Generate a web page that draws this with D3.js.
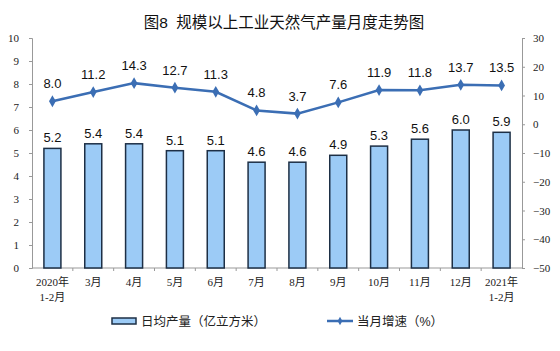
<!DOCTYPE html>
<html>
<head>
<meta charset="utf-8">
<script src="https://cdn.jsdelivr.net/npm/d3@7"></script>
<style>
  body { margin: 0; background: #fff; }
  svg { display: block; }
</style>
</head>
<body>
<div id="chart"></div>
<script>
const months = ['2020年\n1-2月', '3月', '4月', '5月', '6月', '7月', '8月', '9月', '10月', '11月', '12月', '2021年\n1-2月'];
const dailyOutput = [5.2, 5.4, 5.4, 5.1, 5.1, 4.6, 4.6, 4.9, 5.3, 5.6, 6.0, 5.9];
const growthRate = [8.0, 11.2, 14.3, 12.7, 11.3, 4.8, 3.7, 7.6, 11.9, 11.8, 13.7, 13.5];
const leftTicks = [0, 1, 2, 3, 4, 5, 6, 7, 8, 9, 10];
const rightTicks = [-50, -40, -30, -20, -10, 0, 10, 20, 30];

const width = 560, height = 351;
const margin = { left: 32, right: 38, top: 38, bottom: 83 };
const serif = '"Liberation Serif", "Noto Sans CJK SC", serif';
const sans = '"Liberation Sans", Arial, "Noto Sans CJK SC", sans-serif';

const svg = d3.select('#chart')
  .append('svg')
  .attr('width', width)
  .attr('height', height);

// scales
const x = d3.scaleBand()
  .domain(months)
  .range([margin.left, width - margin.right]);
const yLeft = d3.scaleLinear()
  .domain([0, 10])
  .range([height - margin.bottom, margin.top]);
const yRight = d3.scaleLinear()
  .domain([-50, 30])
  .range([height - margin.bottom, margin.top]);

// title
svg.append('text')
  .attr('x', 284)
  .attr('y', 28)
  .attr('text-anchor', 'middle')
  .attr('font-family', sans)
  .attr('font-size', 15.5)
  .attr('fill', '#111')
  .style('white-space', 'pre')
  .text('图8  规模以上工业天然气产量月度走势图');

// left axis
const axisL = svg.append('g')
  .attr('transform', `translate(${margin.left},0)`)
  .call(d3.axisLeft(yLeft).tickValues(leftTicks).tickSize(3).tickPadding(10));
axisL.select('.domain').attr('stroke', '#999');
axisL.selectAll('.tick line').attr('stroke', '#999');
axisL.selectAll('.tick text')
  .attr('font-family', serif)
  .attr('font-size', 11)
  .attr('fill', '#222');

// right axis
const axisR = svg.append('g')
  .attr('transform', `translate(${width - margin.right},0)`)
  .call(d3.axisRight(yRight).tickValues(rightTicks).tickSize(3).tickPadding(8));
axisR.select('.domain').attr('stroke', '#999');
axisR.selectAll('.tick line').attr('stroke', '#999');
axisR.selectAll('.tick text')
  .attr('font-family', serif)
  .attr('font-size', 11)
  .attr('fill', '#222');

// bottom axis line + ticks at band edges
const baseY = yLeft(0);
svg.append('line')
  .attr('x1', margin.left).attr('x2', width - margin.right)
  .attr('y1', baseY).attr('y2', baseY)
  .attr('stroke', '#999');
svg.append('g')
  .selectAll('line')
  .data(months.slice(1))
  .enter()
  .append('line')
  .attr('x1', (d) => x(d)).attr('x2', (d) => x(d))
  .attr('y1', baseY).attr('y2', baseY + 3)
  .attr('stroke', '#999');

// category labels
const catLabels = svg.append('g')
  .selectAll('text')
  .data(months)
  .enter()
  .append('text')
  .attr('x', (d) => x(d) + x.bandwidth() / 2)
  .attr('y', baseY + 18)
  .attr('text-anchor', 'middle')
  .attr('font-family', serif)
  .attr('font-size', 11)
  .attr('fill', '#222');
catLabels.each(function (d) {
  const lines = d.split('\n');
  d3.select(this).selectAll('tspan')
    .data(lines)
    .enter()
    .append('tspan')
    .attr('x', x(d) + x.bandwidth() / 2)
    .attr('dy', (l, i) => (i === 0 ? 0 : 15))
    .text((l) => l);
});

// bars
const barW = 17;
svg.append('g')
  .selectAll('rect')
  .data(dailyOutput)
  .enter()
  .append('rect')
  .attr('x', (d, i) => x(months[i]) + x.bandwidth() / 2 - barW / 2)
  .attr('y', (d) => yLeft(d))
  .attr('width', barW)
  .attr('height', (d) => baseY - yLeft(d))
  .attr('fill', '#9ccbf6')
  .attr('stroke', '#1d2f45')
  .attr('stroke-width', 1.5);

// bar labels
svg.append('g')
  .selectAll('text')
  .data(dailyOutput)
  .enter()
  .append('text')
  .attr('x', (d, i) => x(months[i]) + x.bandwidth() / 2)
  .attr('y', (d) => yLeft(d) - 6)
  .attr('text-anchor', 'middle')
  .attr('font-family', sans)
  .attr('font-size', 13)
  .attr('fill', '#111')
  .text((d) => d.toFixed(1));

// growth line
const line = d3.line()
  .x((d, i) => x(months[i]) + x.bandwidth() / 2)
  .y((d) => yRight(d));
svg.append('path')
  .datum(growthRate)
  .attr('d', line)
  .attr('fill', 'none')
  .attr('stroke', '#3b6eb4')
  .attr('stroke-width', 2.5);

const diamond = d3.symbol().type(d3.symbolDiamond).size(40);
svg.append('g')
  .selectAll('path')
  .data(growthRate)
  .enter()
  .append('path')
  .attr('d', diamond)
  .attr('transform', (d, i) => `translate(${x(months[i]) + x.bandwidth() / 2},${yRight(d)})`)
  .attr('fill', '#3b6eb4');

svg.append('g')
  .selectAll('text')
  .data(growthRate)
  .enter()
  .append('text')
  .attr('x', (d, i) => x(months[i]) + x.bandwidth() / 2)
  .attr('y', (d) => yRight(d) - 13)
  .attr('text-anchor', 'middle')
  .attr('font-family', sans)
  .attr('font-size', 13)
  .attr('fill', '#111')
  .text((d) => d.toFixed(1));

// legend
const legY = 321;
svg.append('rect')
  .attr('x', 112).attr('y', legY - 3)
  .attr('width', 24).attr('height', 6)
  .attr('fill', '#9ccbf6')
  .attr('stroke', '#1d2f45')
  .attr('stroke-width', 1.5);
svg.append('text')
  .attr('x', 141).attr('y', legY + 5)
  .attr('font-family', sans)
  .attr('font-size', 12.5)
  .attr('fill', '#222')
  .text('日均产量（亿立方米）');

svg.append('line')
  .attr('x1', 327).attr('x2', 353)
  .attr('y1', legY).attr('y2', legY)
  .attr('stroke', '#3b6eb4')
  .attr('stroke-width', 2.5);
svg.append('path')
  .attr('d', d3.symbol().type(d3.symbolDiamond).size(20))
  .attr('transform', `translate(340,${legY})`)
  .attr('fill', '#3b6eb4');
svg.append('text')
  .attr('x', 357).attr('y', legY + 5)
  .attr('font-family', sans)
  .attr('font-size', 12.5)
  .attr('fill', '#222')
  .text('当月增速（%）');
</script>
</body>
</html>
